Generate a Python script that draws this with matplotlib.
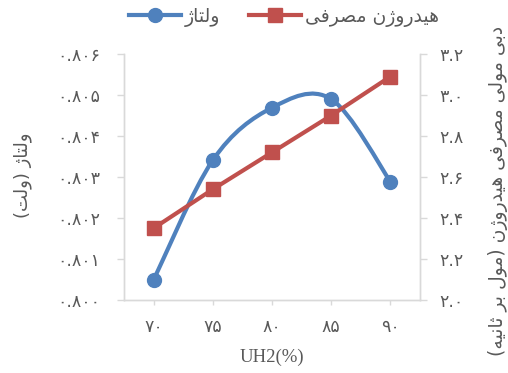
import matplotlib

matplotlib.use("Agg")
import matplotlib.pyplot as plt
import numpy as np
from matplotlib.lines import Line2D
from matplotlib.patches import PathPatch
from matplotlib.path import Path

uh2_percent = [70, 75, 80, 85, 90]
voltage = [0.80049, 0.80341, 0.80469, 0.80490, 0.80289]
h2_consumption = [2.35, 2.54, 2.72, 2.90, 3.09]

voltage_ticks = [0.800, 0.801, 0.802, 0.803, 0.804, 0.805, 0.806]
h2_ticks = [2.0, 2.2, 2.4, 2.6, 2.8, 3.0, 3.2]

legend_voltage = "ولتاژ"
legend_h2 = "هیدروژن مصرفی"
ylabel_left = "ولتاژ (ولت)"
ylabel_right = "دبی مولی مصرفی هیدروژن (مول بر ثانیه)"
xlabel = "UH2(%)"

BLUE = "#4F81BD"
RED = "#C0504D"
GRID = "#D9D9D9"
TEXT = "#595959"
FA_FONT = "DejaVu Sans"

# (isolated, final, initial, medial); letters without initial/medial never join forward
FORMS = {
    "ا": ("\uFE8D", "\uFE8E", None, None),
    "ب": ("\uFE8F", "\uFE90", "\uFE91", "\uFE92"),
    "ت": ("\uFE95", "\uFE96", "\uFE97", "\uFE98"),
    "ث": ("\uFE99", "\uFE9A", "\uFE9B", "\uFE9C"),
    "د": ("\uFEA9", "\uFEAA", None, None),
    "ر": ("\uFEAD", "\uFEAE", None, None),
    "ز": ("\uFEAF", "\uFEB0", None, None),
    "ژ": ("\uFB8A", "\uFB8B", None, None),
    "ص": ("\uFEB9", "\uFEBA", "\uFEBB", "\uFEBC"),
    "ف": ("\uFED1", "\uFED2", "\uFED3", "\uFED4"),
    "ل": ("\uFEDD", "\uFEDE", "\uFEDF", "\uFEE0"),
    "م": ("\uFEE1", "\uFEE2", "\uFEE3", "\uFEE4"),
    "ن": ("\uFEE5", "\uFEE6", "\uFEE7", "\uFEE8"),
    "ه": ("\uFEE9", "\uFEEA", "\uFEEB", "\uFEEC"),
    "و": ("\uFEED", "\uFEEE", None, None),
    "\u06CC": ("\uFBFC", "\uFBFD", "\uFBFE", "\uFBFF"),
}


def fa(text: str) -> str:
    """Contextual shaping + visual reordering, since matplotlib has no bidi support."""
    text = text.replace("\u064A", "\u06CC")
    out = []
    for i, ch in enumerate(text):
        forms = FORMS.get(ch)
        if forms is None:
            out.append(ch)
            continue
        prev = text[i - 1] if i > 0 else ""
        nxt = text[i + 1] if i + 1 < len(text) else ""
        join_prev = prev in FORMS and FORMS[prev][2] is not None
        join_next = nxt in FORMS and forms[2] is not None
        if join_prev and join_next:
            out.append(forms[3])
        elif join_prev:
            out.append(forms[1])
        elif join_next:
            out.append(forms[2])
        else:
            out.append(forms[0])
    mirror = {"(": ")", ")": "("}
    return "".join(mirror.get(c, c) for c in reversed(out))


def fa_digits(s: str) -> str:
    return s.translate(str.maketrans("0123456789", "۰۱۲۳۴۵۶۷۸۹"))


def smooth_path(x, y) -> Path:
    # cubic bezier through every point, control points at 1/6 of the neighbour chord
    pts = np.column_stack([x, y]).astype(float)
    n = len(pts)
    verts = [pts[0]]
    codes = [Path.MOVETO]
    for i in range(n - 1):
        p_prev = pts[max(i - 1, 0)]
        p0, p1 = pts[i], pts[i + 1]
        p_next = pts[min(i + 2, n - 1)]
        c1 = p0 + (p1 - p_prev) / 6.0
        c2 = p1 - (p_next - p0) / 6.0
        verts += [c1, c2, p1]
        codes += [Path.CURVE4] * 3
    return Path(verts, codes)


W, H = 508, 373
fig = plt.figure(figsize=(W / 100, H / 100), dpi=100)
left, right, top, bottom = 124, 420, 54, 300
ax = fig.add_axes([left / W, 1 - bottom / H, (right - left) / W, (bottom - top) / H])
ax2 = ax.twinx()

xpos = np.arange(len(uh2_percent))

ax.add_patch(
    PathPatch(
        smooth_path(xpos, voltage),
        facecolor="none",
        edgecolor=BLUE,
        linewidth=3.0,
        capstyle="round",
        zorder=3,
    )
)
ax.plot(xpos, voltage, linestyle="none", marker="o", markersize=10,
        color=BLUE, zorder=4)
ax2.plot(xpos, h2_consumption, color=RED, linewidth=3.0, marker="s",
         markersize=9.5, zorder=3)

ax.set_xlim(-0.5, len(uh2_percent) - 0.5)
ax.set_ylim(voltage_ticks[0], voltage_ticks[-1])
ax2.set_ylim(h2_ticks[0], h2_ticks[-1])

ax.set_xticks(xpos, labels=[fa_digits(str(v)) for v in uh2_percent])
ax.set_yticks(voltage_ticks, labels=[fa_digits(f"{v:.3f}") for v in voltage_ticks])
ax2.set_yticks(h2_ticks, labels=[fa_digits(f"{v:.1f}") for v in h2_ticks])

for a in (ax, ax2):
    a.spines["top"].set_visible(False)
    for side in ("left", "right", "bottom"):
        a.spines[side].set_color(GRID)
        a.spines[side].set_linewidth(1.0)
    a.set_facecolor("none")

ax.tick_params(axis="y", length=5, width=1, color=GRID, pad=12,
               labelsize=12.5, labelcolor=TEXT)
ax.tick_params(axis="x", length=3.6, width=1, color=GRID, pad=9,
               labelsize=12.5, labelcolor=TEXT)
ax2.tick_params(axis="y", length=5, width=1, color=GRID, pad=9,
                labelsize=12.5, labelcolor=TEXT)
for lbl in ax.get_xticklabels() + ax.get_yticklabels() + ax2.get_yticklabels():
    lbl.set_fontfamily(FA_FONT)

fig.text(272 / W, 1 - 357 / H, xlabel, ha="center", va="center",
         fontsize=13.5, family="Liberation Serif", color=TEXT)
fig.text(23 / W, 1 - 175 / H, fa(ylabel_left), ha="center", va="center",
         rotation=90, fontsize=13, family=FA_FONT, color=TEXT)
fig.text(498 / W, 1 - 356 / H, fa(ylabel_right), ha="center", va="bottom",
         rotation=90, fontsize=13.5, family=FA_FONT, color=TEXT)

handles = [
    Line2D([], [], color=BLUE, linewidth=3.0, marker="o", markersize=10),
    Line2D([], [], color=RED, linewidth=3.0, marker="s", markersize=9.5),
]
fig.legend(handles, [fa(legend_voltage), fa(legend_h2)], ncol=2,
           loc="center", bbox_to_anchor=(284 / W, 1 - 17 / H), frameon=False,
           prop={"family": FA_FONT, "size": 13.5}, labelcolor=TEXT,
           handlelength=2.8, handletextpad=0.2, columnspacing=1.5)

fig.savefig("out.png", dpi=100)
